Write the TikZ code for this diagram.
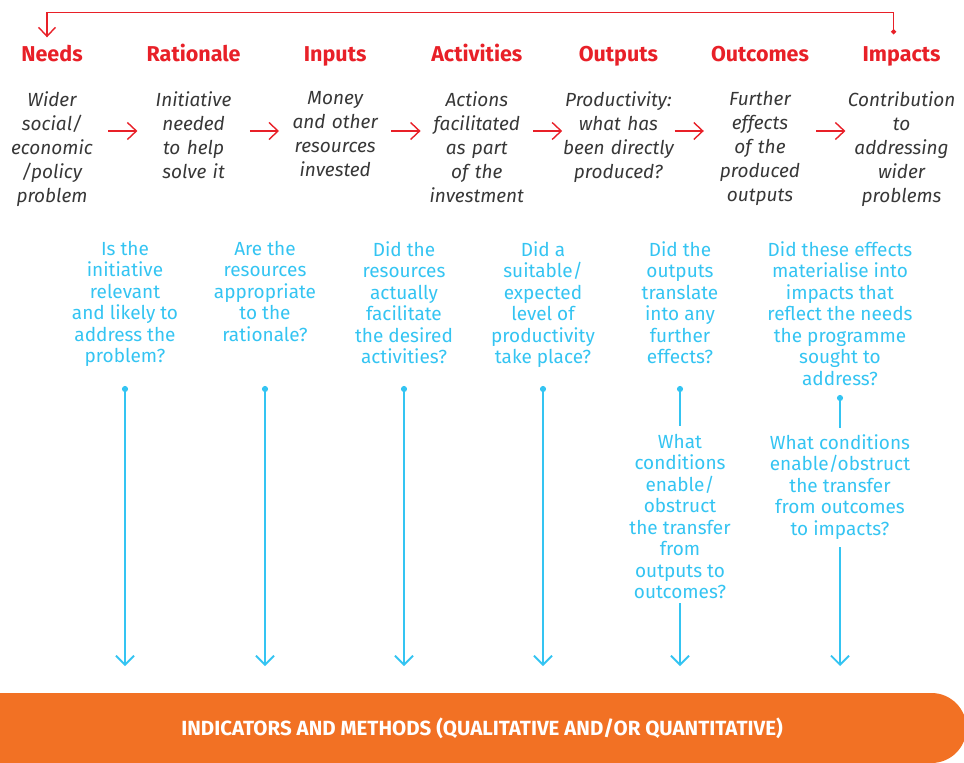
\documentclass[tikz,border=0pt]{standalone}
\usepackage{fontspec}
\setmainfont{Fira Sans}
\usetikzlibrary{positioning}
\usetikzlibrary{arrows.meta}
\usetikzlibrary{shapes}

\definecolor{stepred}{RGB}{232,32,40}
\definecolor{askblue}{RGB}{52,196,242}
\definecolor{barorange}{RGB}{242,113,36}
\definecolor{descgrey}{RGB}{55,55,55}

\tikzset{
	head/.style={text=stepred,font=\fontsize{21.5}{24}\selectfont\bfseries,inner sep=0,text height=15pt,text depth=4pt},
	desc/.style={text=descgrey,font=\fontsize{19}{24}\selectfont\itshape,text width=112pt,align=center,anchor=north,inner sep=0},
	ask/.style={text=askblue,font=\fontsize{19}{21.5}\selectfont,align=center,anchor=north,inner sep=0},
	flow/.style={stepred,line width=1.4pt,-{Straight Barb[length=9pt,width=17pt]}},
	askline/.style={askblue,line width=1.8pt},
	askarrow/.style={askline,-{Straight Barb[length=9pt,width=18pt]}},
	bar/.style={rounded rectangle,rounded rectangle left arc=none,fill=barorange,text=white,
		minimum width=974pt,minimum height=70pt,font=\fontsize{20.5}{22}\selectfont\bfseries}
}

\begin{document}
\begin{tikzpicture}[x=1pt,y=-1pt,auto,node distance=141.6pt,on grid]
	\useasboundingbox (0,0) rectangle (964,763);

	% rows
	\coordinate (descrow) at (0,91);
	\coordinate (flowrow) at (0,131);
	\coordinate (askrow) at (0,241);
	\coordinate (dotrow) at (0,386);
	\coordinate (dotrowb) at (0,395);
	\coordinate (tip) at (0,666);

	% Place nodes
	\node [head] at (52,56) (needs) {Needs};
	\node [head,right=of needs] (rationale) {Rationale};
	\node [head,right=of rationale] (inputs) {Inputs};
	\node [head,right=of inputs] (activities) {Activities};
	\node [head,right=of activities] (outputs) {Outputs};
	\node [head,right=of outputs] (outcomes) {Outcomes};
	\node [head,right=of outcomes] (impacts) {Impacts};

	\node [desc] at (needs |- descrow) (d1) {Wider\\social/\\economic\\/policy\\problem};
	\node [desc] at (rationale |- descrow) (d2) {Initiative\\needed\\to help\\solve it};
	\node [desc] at (inputs |- descrow) (d3) {Money\\and other\\resources\\invested};
	\node [desc] at (activities |- descrow) (d4) {Actions\\facilitated\\as part\\of the\\investment};
	\node [desc] at (outputs |- descrow) (d5) {Productivity:\\what has\\been directly\\produced?};
	\node [desc] at (outcomes |- descrow) (d6) {Further\\effects\\of the\\produced\\outputs};
	\node [desc] at (impacts |- descrow) (d7) {Contribution\\to\\addressing\\wider\\problems};

	\foreach \a/\b in {d1/d2,d2/d3,d3/d4,d4/d5,d5/d6,d6/d7}
		\draw [flow] (\a.east |- flowrow) -- (\b.west |- flowrow);

	% feedback loop
	\draw [flow,{Circle[length=5pt]}-{Straight Barb[length=9pt,width=17pt]}]
		([xshift=-8pt,yshift=12pt]impacts.north) -- ++(0,-22) -| ([xshift=-5pt,yshift=9pt]needs.north);

	% questions
	\node [ask] at (125,0 |- askrow) (q1) {Is the\\initiative\\relevant\\and likely to\\address the\\problem?};
	\node [ask] at (265,0 |- askrow) (q2) {Are the\\resources\\appropriate\\to the\\rationale?};
	\node [ask] at (404,0 |- askrow) (q3) {Did the\\resources\\actually\\facilitate\\the desired\\activities?};
	\node [ask] at (543,0 |- askrow) (q4) {Did a\\suitable/\\expected\\level of\\productivity\\take place?};
	\node [ask] at (680,0 |- askrow) (q5) {Did the\\outputs\\translate\\into any\\further\\effects?};
	\node [ask] at (840,0 |- askrow) (q6) {Did these effects\\materialise into\\impacts that\\reflect the needs\\the programme\\sought to\\address?};
	\node [ask] at (680,434) (c5) {What\\conditions\\enable/\\obstruct\\the transfer\\from\\outputs to\\outcomes?};
	\node [ask] at (840,434) (c6) {What conditions\\enable/obstruct\\the transfer\\from outcomes\\to impacts?};

	\node [bar] at (482,728) (methods) {INDICATORS AND METHODS (QUALITATIVE AND/OR QUANTITATIVE)};

	\foreach \q in {q1,q2,q3,q4}
		\draw [askarrow,{Circle[length=6pt]}-{Straight Barb[length=9pt,width=18pt]}] (\q |- dotrow) -- (\q |- tip);
	\draw [askline,{Circle[length=6pt]}-] (q5 |- dotrow) -- ([yshift=8pt]c5.north);
	\draw [askarrow] ([yshift=-4pt]c5.south) -- (c5 |- tip);
	\draw [askline,{Circle[length=6pt]}-] (q6 |- dotrowb) -- ([yshift=6pt]c6.north);
	\draw [askarrow] ([yshift=-8pt]c6.south) -- (c6 |- tip);
\end{tikzpicture}
\end{document}
